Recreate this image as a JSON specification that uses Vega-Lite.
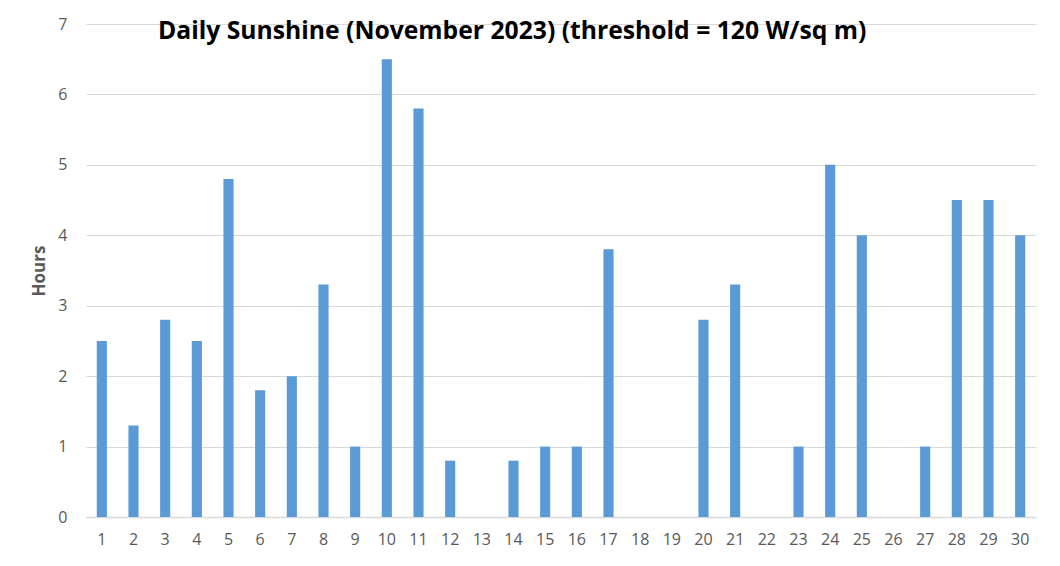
{
  "$schema": "https://vega.github.io/schema/vega-lite/v6.json",
  "autosize": {"type": "none"},
  "width": 950,
  "height": 493,
  "padding": {"left": 86, "top": 24, "right": 24, "bottom": 49},
  "background": "white",
  "title": {
    "text": "Daily Sunshine (November 2023) (threshold = 120 W/sq m)",
    "font": "Open Sans",
    "fontSize": 24.7,
    "fontWeight": "bold",
    "color": "#000000",
    "anchor": "start",
    "frame": "group",
    "dx": 72,
    "dy": 31,
    "baseline": "alphabetic",
    "offset": -17
  },
  "data": {
    "values": [
      {"day": 1, "hours": 2.5}, {"day": 2, "hours": 1.3}, {"day": 3, "hours": 2.8},
      {"day": 4, "hours": 2.5}, {"day": 5, "hours": 4.8}, {"day": 6, "hours": 1.8},
      {"day": 7, "hours": 2.0}, {"day": 8, "hours": 3.3}, {"day": 9, "hours": 1.0},
      {"day": 10, "hours": 6.5}, {"day": 11, "hours": 5.8}, {"day": 12, "hours": 0.8},
      {"day": 13, "hours": 0}, {"day": 14, "hours": 0.8}, {"day": 15, "hours": 1.0},
      {"day": 16, "hours": 1.0}, {"day": 17, "hours": 3.8}, {"day": 18, "hours": 0},
      {"day": 19, "hours": 0}, {"day": 20, "hours": 2.8}, {"day": 21, "hours": 3.3},
      {"day": 22, "hours": 0}, {"day": 23, "hours": 1.0}, {"day": 24, "hours": 5.0},
      {"day": 25, "hours": 4.0}, {"day": 26, "hours": 0}, {"day": 27, "hours": 1.0},
      {"day": 28, "hours": 4.5}, {"day": 29, "hours": 4.5}, {"day": 30, "hours": 4.0}
    ]
  },
  "mark": {"type": "bar", "color": "#5b9bd5"},
  "encoding": {
    "x": {
      "field": "day",
      "type": "ordinal",
      "scale": {"paddingInner": 0.68, "paddingOuter": 0.34},
      "axis": {
        "title": null,
        "labelAngle": 0,
        "labelFont": "Open Sans",
        "labelFontSize": 16,
        "labelColor": "#595959",
        "labelPadding": 14,
        "ticks": false,
        "domain": true,
        "domainColor": "#d9d9d9",
        "domainWidth": 1.5,
        "grid": false
      }
    },
    "y": {
      "field": "hours",
      "type": "quantitative",
      "scale": {"domain": [0, 7], "nice": false},
      "axis": {
        "title": "Hours",
        "titleFont": "Open Sans",
        "titleFontSize": 17,
        "titleFontWeight": "bold",
        "titleColor": "#595959",
        "titlePadding": 9,
        "values": [0, 1, 2, 3, 4, 5, 6, 7],
        "labelFont": "Open Sans",
        "labelFontSize": 16,
        "labelColor": "#595959",
        "labelPadding": 19,
        "ticks": false,
        "domain": false,
        "grid": true,
        "gridColor": "#d9d9d9",
        "gridWidth": 1
      }
    }
  },
  "config": {"view": {"stroke": null}}
}
